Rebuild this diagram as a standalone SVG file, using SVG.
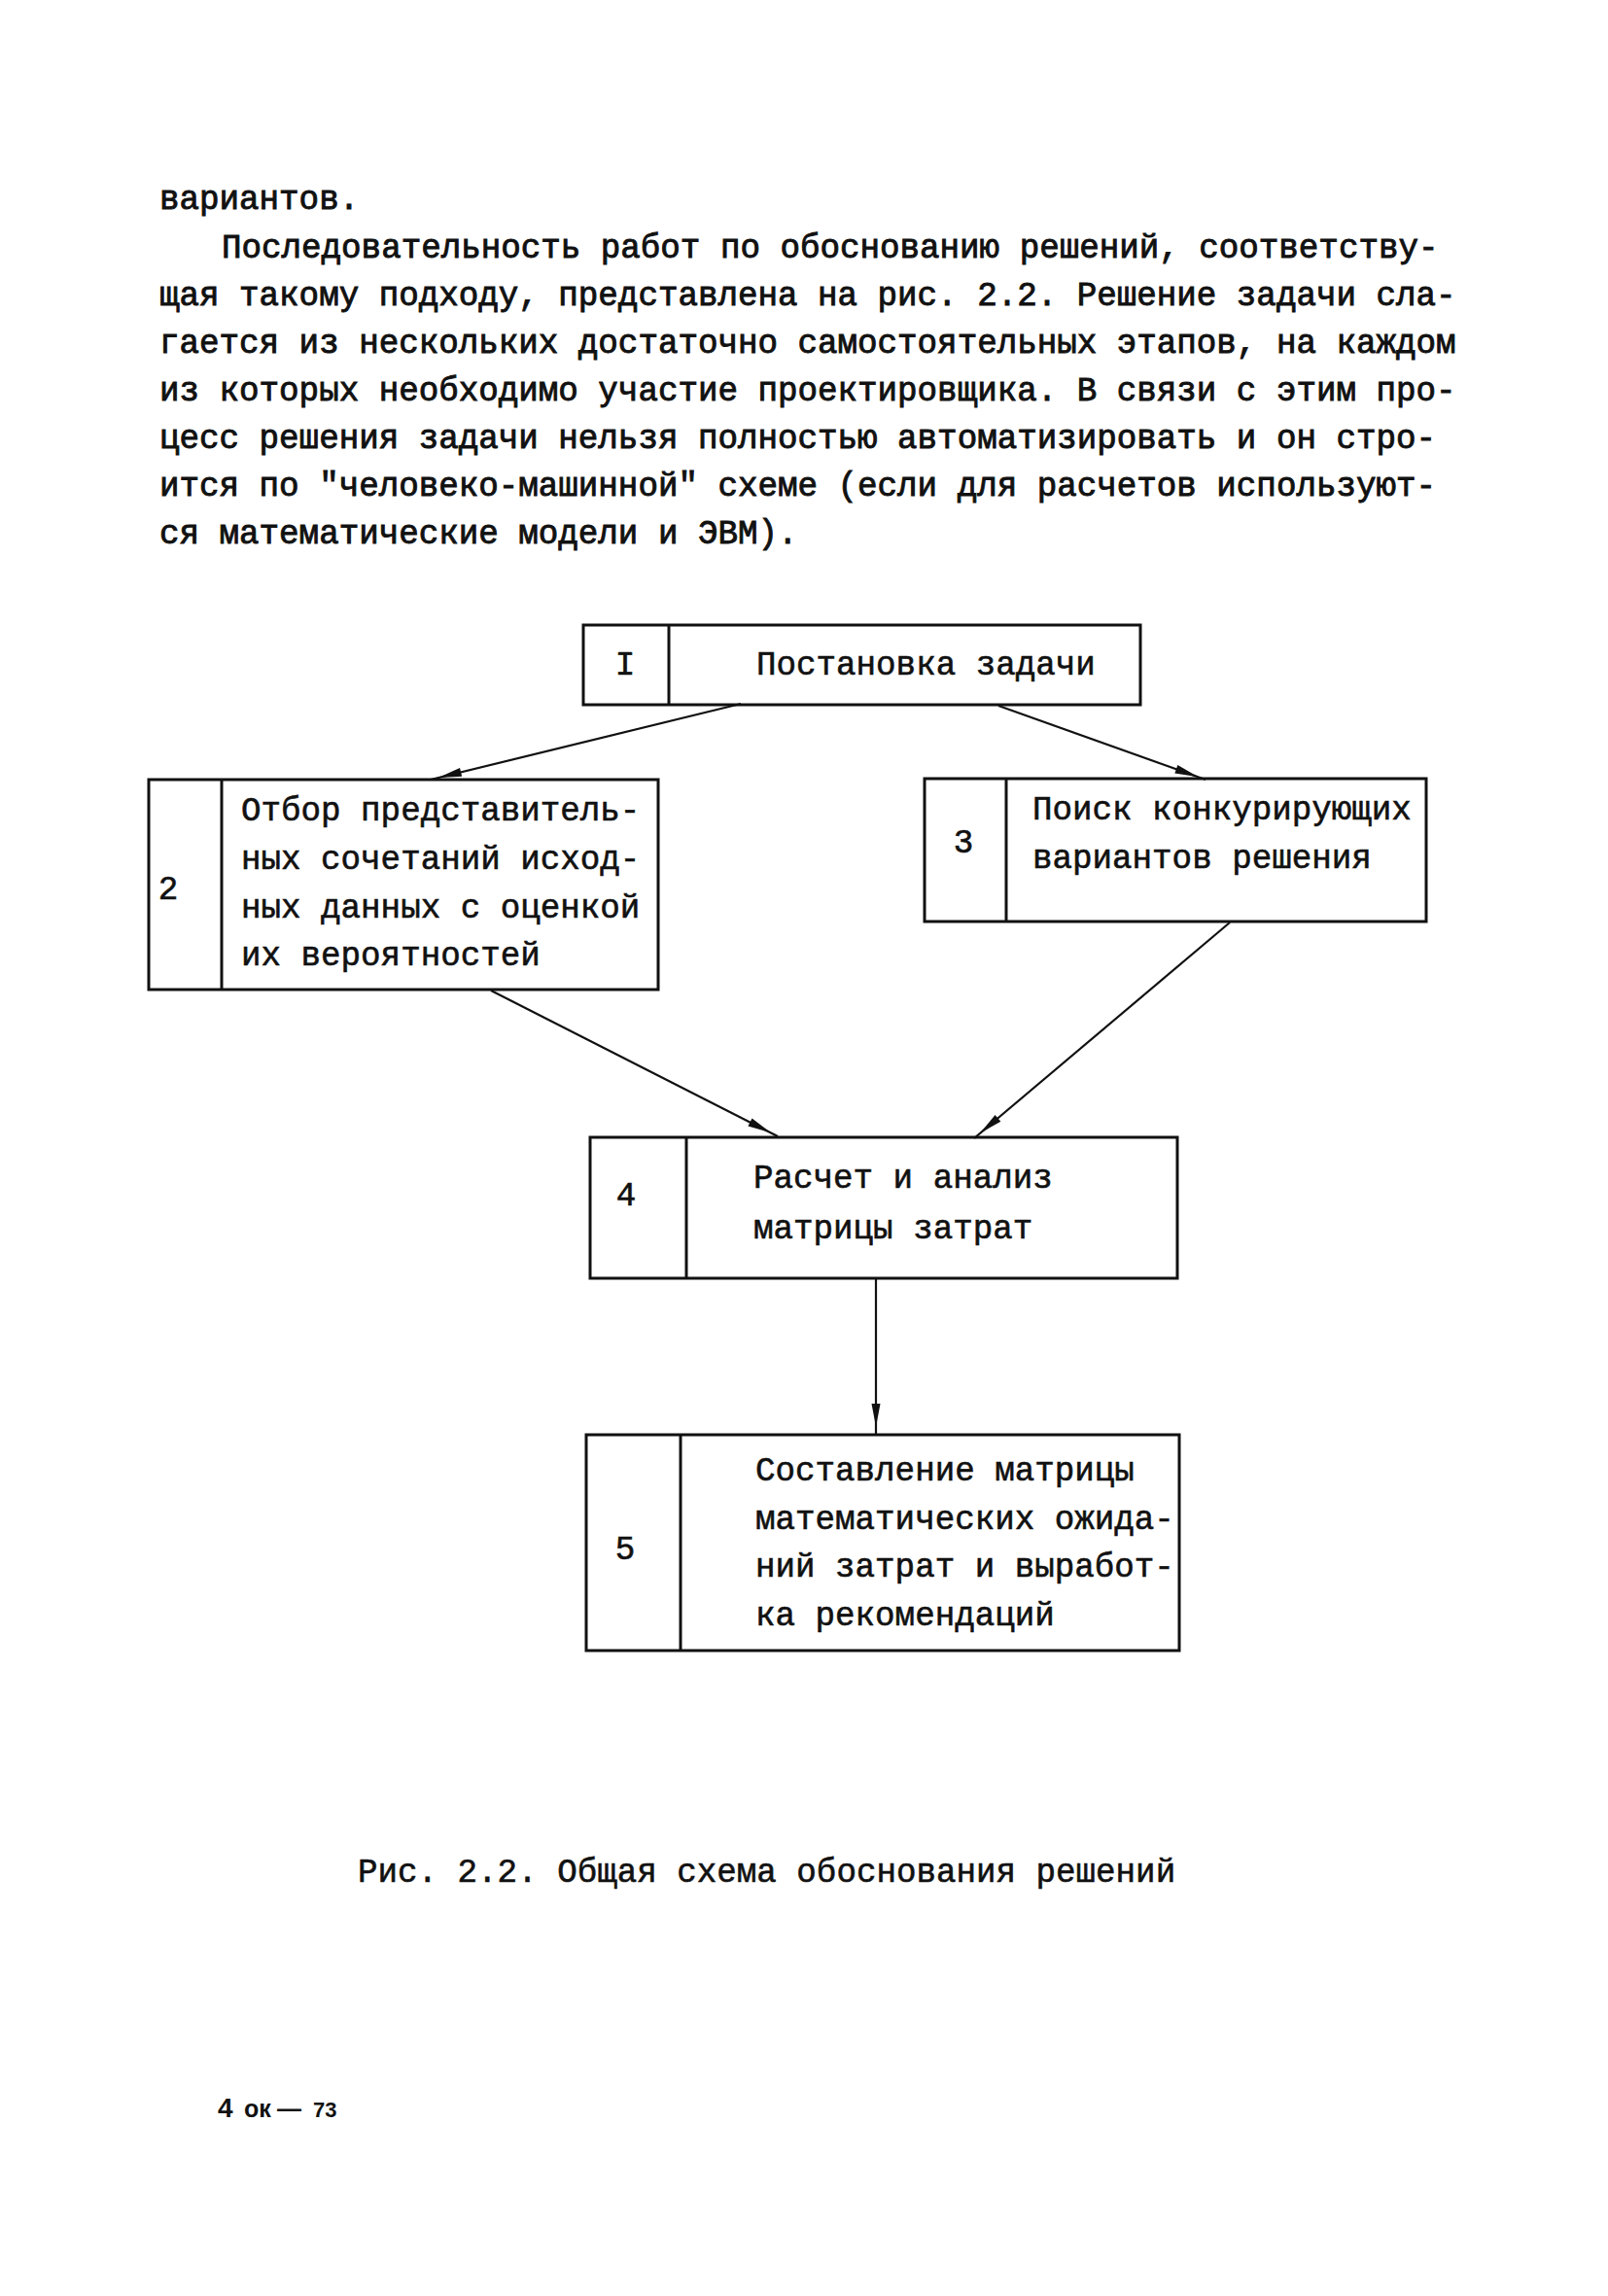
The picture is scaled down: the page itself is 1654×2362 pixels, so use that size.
<svg xmlns="http://www.w3.org/2000/svg" width="1654" height="2362" viewBox="0 0 1654 2362">
<defs>
<style>
.t{font-family:"Liberation Mono","DejaVu Sans Mono",monospace;font-size:34.2px;fill:#111;stroke:#111;stroke-width:0.6}
.p{font-family:"Liberation Mono","DejaVu Sans Mono",monospace;font-size:34.2px;fill:#111;stroke:#111;stroke-width:0.9}
.n{text-anchor:middle}
.box{fill:none;stroke:#111;stroke-width:3}
.div{stroke:#111;stroke-width:3}
.c{stroke:#111;stroke-width:2.2;fill:none;marker-end:url(#ah)}
.f{font-family:"Liberation Sans",Arial,sans-serif;font-weight:bold;fill:#111}
</style>
<marker id="ah" markerUnits="userSpaceOnUse" markerWidth="34" markerHeight="12" viewBox="0 0 34 12" refX="34" refY="6" orient="auto">
<path d="M2,1.5 L26,6 L2,10.5 Z" fill="#111"/>
</marker>
</defs>
<rect width="1654" height="2362" fill="#fff"/>

<g id="paragraph">
<text class="p" x="164" y="215">вариантов.</text>
<text class="p" x="228" y="265">Последовательность работ по обоснованию решений, соответству-</text>
<text class="p" x="164" y="314">щая такому подходу, представлена на рис. 2.2. Решение задачи сла-</text>
<text class="p" x="164" y="363">гается из нескольких достаточно самостоятельных этапов, на каждом</text>
<text class="p" x="164" y="412">из которых необходимо участие проектировщика. В связи с этим про-</text>
<text class="p" x="164" y="461">цесс решения задачи нельзя полностью автоматизировать и он стро-</text>
<text class="p" x="164" y="510">ится по "человеко-машинной" схеме (если для расчетов используют-</text>
<text class="p" x="164" y="559">ся математические модели и ЭВМ).</text>
</g>

<g id="connectors">
<line class="c" x1="762" y1="724" x2="443" y2="802"/>
<line class="c" x1="1027" y1="726" x2="1240" y2="802"/>
<line class="c" x1="505" y1="1019" x2="800" y2="1169"/>
<line class="c" x1="1265" y1="949" x2="1002" y2="1171"/>
<line class="c" x1="901" y1="1316" x2="901" y2="1476"/>
</g>

<g id="node1">
<rect class="box" x="600" y="643" width="573" height="82"/>
<line class="div" x1="688" y1="643" x2="688" y2="725"/>
<text class="t n" x="643" y="694">I</text>
<text class="t" x="778" y="694">Постановка задачи</text>
</g>

<g id="node2">
<rect class="box" x="153" y="802" width="524" height="216"/>
<line class="div" x1="228" y1="802" x2="228" y2="1018"/>
<text class="t n" x="173" y="925">2</text>
<text class="t" x="248" y="844">Отбор представитель-</text>
<text class="t" x="248" y="894">ных сочетаний исход-</text>
<text class="t" x="248" y="944">ных данных с оценкой</text>
<text class="t" x="248" y="993">их вероятностей</text>
</g>

<g id="node3">
<rect class="box" x="951" y="801" width="516" height="147"/>
<line class="div" x1="1035" y1="801" x2="1035" y2="948"/>
<text class="t n" x="991" y="877">3</text>
<text class="t" x="1062" y="843">Поиск конкурирующих</text>
<text class="t" x="1062" y="893">вариантов решения</text>
</g>

<g id="node4">
<rect class="box" x="607" y="1170" width="604" height="145"/>
<line class="div" x1="706" y1="1170" x2="706" y2="1315"/>
<text class="t n" x="644" y="1240">4</text>
<text class="t" x="775" y="1222">Расчет и анализ</text>
<text class="t" x="775" y="1274">матрицы затрат</text>
</g>

<g id="node5">
<rect class="box" x="603" y="1476" width="610" height="222"/>
<line class="div" x1="700" y1="1476" x2="700" y2="1698"/>
<text class="t n" x="643" y="1604">5</text>
<text class="t" x="777" y="1523">Составление матрицы</text>
<text class="t" x="777" y="1573">математических ожида-</text>
<text class="t" x="777" y="1622">ний затрат и выработ-</text>
<text class="t" x="777" y="1672">ка рекомендаций</text>
</g>

<g id="caption">
<text class="t" x="368" y="1936">Рис. 2.2. Общая схема обоснования решений</text>
</g>

<g id="footer">
<text class="f" y="2178"><tspan x="224" font-size="28">4</tspan><tspan x="251" font-size="25">ок</tspan><tspan x="285" font-size="25">—</tspan><tspan x="322" font-size="22">73</tspan></text>
</g>
</svg>
